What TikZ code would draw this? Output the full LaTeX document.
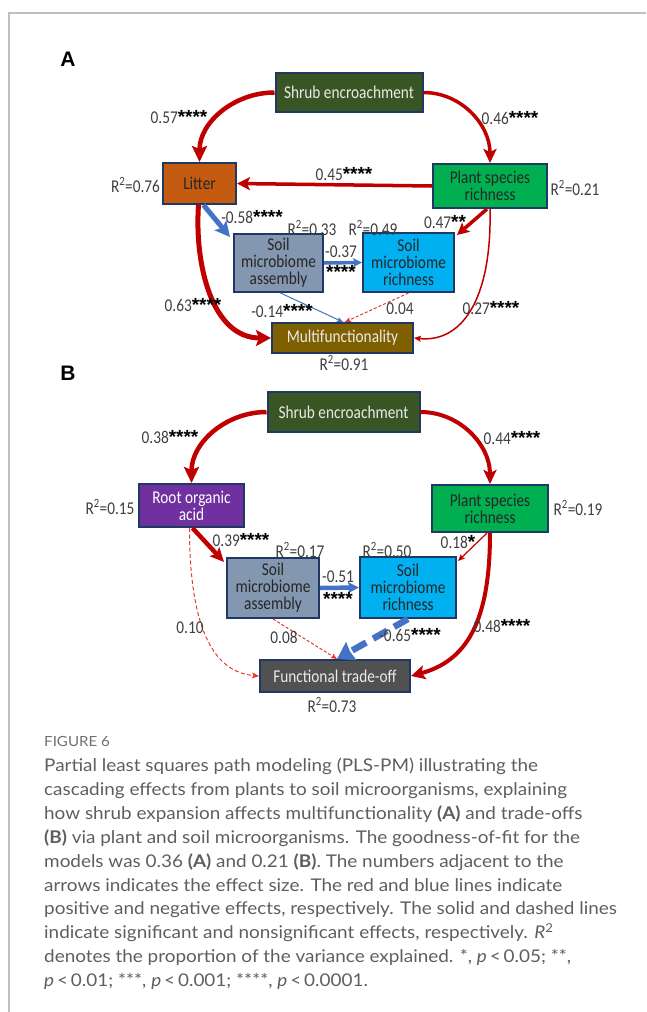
\documentclass[tikz,border=0pt]{standalone}
\usepackage{fontspec}
\setmainfont[FakeStretch=1.08]{Lato}
\newfontfamily\df[FakeStretch=0.85]{Carlito}
\newfontfamily\pf{Liberation Sans}
\usetikzlibrary{arrows.meta}
\definecolor{posred}{HTML}{C00000}
\definecolor{negblue}{HTML}{4472C4}
\definecolor{dashred}{HTML}{E53935}
\definecolor{bordc}{HTML}{1F3864}
\definecolor{shc}{HTML}{3A5524}
\definecolor{litc}{HTML}{C55A11}
\definecolor{plc}{HTML}{00B050}
\definecolor{asc}{HTML}{8497B0}
\definecolor{ric}{HTML}{00B0F0}
\definecolor{muc}{HTML}{7F6000}
\definecolor{roc}{HTML}{7030A0}
\definecolor{trc}{HTML}{515151}
\definecolor{labc}{HTML}{3F3F3F}
\definecolor{captc}{HTML}{5E5E5E}
\definecolor{figc}{HTML}{707070}
\definecolor{framec}{HTML}{BFBFBF}
\definecolor{lighttxt}{HTML}{EAEAEA}
\definecolor{darktxt}{HTML}{262626}
\newcommand\stars[1]{{\pf\bfseries\fontsize{19}{20}\selectfont\color{black}#1}}
\newcommand\Rsq[1]{R\textsuperscript{2}=#1}
\tikzset{
  bx/.style={draw=bordc, line width=2pt, inner sep=0pt, align=center,
    font=\df\fontsize{18}{17}\selectfont},
  lab/.style={font=\df\fontsize{18}{20}\selectfont, text=labc, inner sep=0pt},
  ar/.style n args={5}{draw=#1, line width=#2pt, -{Stealth[length=#3pt, width=#4pt, inset=#5pt]}},
  captxt/.style={anchor=base west, inner sep=0pt, text=captc, font=\fontsize{17.5}{24}\selectfont},
  panel/.style={font=\pf\bfseries\fontsize{21}{21}\selectfont, inner sep=0pt}
}
\begin{document}
\begin{tikzpicture}[x=1pt,y=-1pt]
\useasboundingbox (0,0) rectangle (646,1012);
% frame
\draw[framec, line width=1.5pt] (9,1012) -- (9,13) -- (646,13);

% ---------------- Panel A ----------------
\node[panel] (pA) at (68,59) {A};
\node[bx, fill=shc, text=lighttxt, minimum width=147pt, minimum height=39pt] (shA) at (349,92.5) {Shrub encroachment};
\node[bx, fill=litc, text=darktxt, minimum width=73pt, minimum height=41pt] (litA) at (199.5,183.5) {Litter};
\node[bx, fill=plc, text=darktxt, minimum width=114pt, minimum height=44pt] (plA) at (490,186) {Plant species\\richness};
\node[bx, fill=asc, text=darktxt, minimum width=89pt, minimum height=58pt] (asA) at (278.5,263) {Soil\\microbiome\\assembly};
\node[bx, fill=ric, text=darktxt, minimum width=91pt, minimum height=59pt] (riA) at (408.5,262.5) {Soil\\microbiome\\richness};
\node[bx, fill=muc, text=lighttxt, minimum width=141pt, minimum height=30pt] (muA) at (342.5,338) {Multifunctionality};

\draw[ar={posred}{4.5}{16}{15}{3}] (shA.west) to[out=180,in=90] (litA.north);
\draw[ar={posred}{3.5}{14}{13}{3}] (shA.east) to[out=0,in=90] (plA.north);
\draw[ar={posred}{3.5}{13}{13}{3}] (plA.west) -- (litA.east);
\draw[ar={negblue}{5}{15}{15}{3}] ([shift={(4,0)}]litA.south) -- ([shift={(-3,4)}]asA.north west);
\draw[ar={posred}{5}{15}{16}{3}] ([shift={(-1,0)}]litA.south) to[out=-94,in=180] (muA.west);
\draw[ar={posred}{3.5}{12}{12}{2.5}] ([shift={(-3,0)}]plA.south) -- ([shift={(2,3)}]riA.north east);
\draw[ar={posred}{1.5}{7}{6}{1.5}] (plA.south) .. controls +(2,92) and +(47,5) .. (muA.east);
\draw[ar={negblue}{3.5}{9}{9}{2}] (asA.east) -- (riA.west);
\draw[ar={negblue}{1}{6}{5}{1.2}] ([shift={(2,0)}]asA.south) -- ([shift={(0.5,0)}]muA.north);
\draw[ar={dashred}{1}{6}{5}{1.2}, dash pattern=on 3pt off 2pt] (riA.south) -- ([shift={(2.5,0)}]muA.north);

\node[lab] (a1) at (179,117) {0.57\stars{****}};
\node[lab] (a2) at (510,118) {0.46\stars{****}};
\node[lab] (a3) at (344,174) {0.45\stars{****}};
\node[lab] (a4) at (135.5,185) {\Rsq{0.76}};
\node[lab] (a5) at (575,188) {\Rsq{0.21}};
\node[lab] (a6) at (252,217) {-0.58\stars{****}};
\node[lab] (a7) at (312,228) {\Rsq{0.33}};
\node[lab] (a8) at (373,228) {\Rsq{0.49}};
\node[lab] (a9) at (445,222) {0.47\stars{**}};
\node[lab] (a10) at (341,252) {-0.37};
\node[lab] (a11) at (341,272) {\stars{****}};
\node[lab] (a12) at (193,305) {0.63\stars{****}};
\node[lab] (a13) at (282,311) {-0.14\stars{****}};
\node[lab] (a14) at (400,309) {0.04};
\node[lab] (a15) at (491,308) {0.27\stars{****}};
\node[lab] (a16) at (344,363) {\Rsq{0.91}};

% ---------------- Panel B ----------------
\node[panel] (pB) at (68,373) {B};
\node[bx, fill=shc, text=lighttxt, minimum width=152pt, minimum height=40pt] (shB) at (343.5,412) {Shrub encroachment};
\node[bx, fill=roc, text=white, minimum width=105pt, minimum height=43pt] (roB) at (191.5,505.5) {Root organic\\acid};
\node[bx, fill=plc, text=darktxt, minimum width=116pt, minimum height=47pt] (plB) at (490,508.5) {Plant species\\richness};
\node[bx, fill=asc, text=darktxt, minimum width=92pt, minimum height=60pt] (asB) at (273,588) {Soil\\microbiome\\assembly};
\node[bx, fill=ric, text=darktxt, minimum width=96pt, minimum height=61pt] (riB) at (408,587.5) {Soil\\microbiome\\richness};
\node[bx, fill=trc, text=lighttxt, minimum width=150pt, minimum height=32pt] (trB) at (335,676) {Functional trade-off};

\draw[ar={posred}{4.5}{16}{15}{3}] (shB.west) to[out=180,in=90] (roB.north);
\draw[ar={posred}{4}{14}{13}{3}] (shB.east) to[out=0,in=90] (plB.north);
\draw[ar={posred}{4.5}{14}{13}{3}] ([shift={(1,0)}]roB.south) -- ([shift={(-2,5)}]asB.north west);
\draw[ar={dashred}{1}{7}{6}{1.5}, dash pattern=on 4pt off 2.5pt] ([shift={(-2,0)}]roB.south) .. controls +(0,95) and +(-48,-4) .. (trB.west);
\draw[ar={posred}{1.2}{7}{6}{1.5}] ([shift={(-3,0)}]plB.south) -- ([shift={(1,5)}]riB.north east);
\draw[ar={posred}{4}{14}{14}{3}] (plB.south) .. controls +(0,90) and +(55,-15) .. (trB.east);
\draw[ar={negblue}{4.5}{11}{11}{2}] (asB.east) -- (riB.west);
\draw[ar={dashred}{1}{6}{5}{1.2}, dash pattern=on 3pt off 2pt] (asB.south) -- ([shift={(2,0)}]trB.north);
\draw[ar={negblue}{6.5}{16}{20}{1}, dash pattern=on 16pt off 8pt] (riB.south) -- ([shift={(2,0)}]trB.north);

\node[lab] (b1) at (170,437) {0.38\stars{****}};
\node[lab] (b2) at (512,438) {0.44\stars{****}};
\node[lab] (b3) at (110,507) {\Rsq{0.15}};
\node[lab] (b4) at (578,508) {\Rsq{0.19}};
\node[lab] (b5) at (241,540) {0.39\stars{****}};
\node[lab] (b6) at (300,550) {\Rsq{0.17}};
\node[lab] (b7) at (387,550) {\Rsq{0.50}};
\node[lab] (b8) at (458,542) {0.18\stars{*}};
\node[lab] (b9) at (338,577) {-0.51};
\node[lab] (b10) at (338,599) {\stars{****}};
\node[lab] (b11) at (190,628) {0.10};
\node[lab] (b12) at (284,637) {0.08};
\node[lab] (b13) at (410,635) {-0.65\stars{****}};
\node[lab] (b14) at (502,626) {0.48\stars{****}};
\node[lab] (b15) at (332,705) {\Rsq{0.73}};

% ---------------- Caption ----------------
\node[anchor=base west, inner sep=0pt, text=figc, font=\fontsize{14}{16}\selectfont] (fig) at (44,746.7) {FIGURE 6};
\node[captxt] (c1) at (44,771.5) {Partial least squares path modeling (PLS-PM) illustrating the};
\node[captxt] (c2) at (44,795.4) {cascading effects from plants to soil microorganisms, explaining};
\node[captxt] (c3) at (44,819.3) {how shrub expansion affects multifunctionality \textbf{(A)} and trade-offs};
\node[captxt] (c4) at (44,843.2) {\textbf{(B)} via plant and soil microorganisms. The goodness-of-fit for the};
\node[captxt] (c5) at (44,867.1) {models was 0.36 \textbf{(A)} and 0.21 \textbf{(B)}. The numbers adjacent to the};
\node[captxt] (c6) at (44,891.0) {arrows indicates the effect size. The red and blue lines indicate};
\node[captxt] (c7) at (44,914.9) {positive and negative effects, respectively. The solid and dashed lines};
\node[captxt] (c8) at (44,938.8) {indicate significant and nonsignificant effects, respectively. \textit{R}\textsuperscript{2}};
\node[captxt] (c9) at (44,962.7) {denotes the proportion of the variance explained. *, \textit{p}\,<\,0.05; **,};
\node[captxt] (c10) at (44,986.6) {\textit{p}\,<\,0.01; ***, \textit{p}\,<\,0.001; ****, \textit{p}\,<\,0.0001.};
\end{tikzpicture}
\end{document}
